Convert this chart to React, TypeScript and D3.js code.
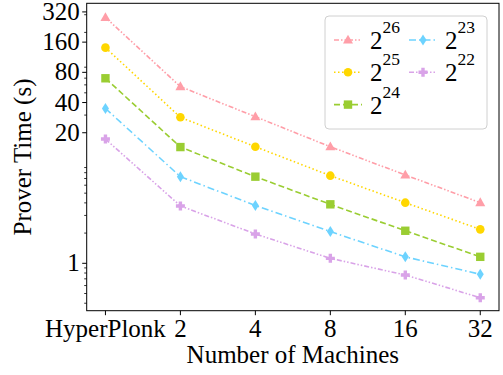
import React from "react";
import * as d3 from "d3";

const categories = ["HyperPlonk", "2", "4", "8", "16", "32"];
const seriesNames = ["26", "25", "24", "23", "22"];
const s26 = [282, 57.6, 28.9, 14.5, 7.59, 4.02];
const s25 = [141, 28.5, 14.5, 7.47, 4.02, 2.18];
const s24 = [69.8, 14.4, 7.3, 3.87, 2.11, 1.16];
const s23 = [34.9, 7.3, 3.77, 2.07, 1.16, 0.777];
const s22 = [17.3, 3.73, 1.96, 1.12, 0.765, 0.454];
const yTicks = [1, 20, 40, 80, 160, 320];
const yMinorTicks = [0.4, 0.5, 0.6, 0.7, 0.8, 0.9, 2, 3, 4, 5, 6, 7, 8, 9, 30, 50, 60, 70, 90, 200, 300];

const W = 503, H = 375;
const L = 86.7, R = 499, T = 3.3, B = 310.7;
const FONT = "'Liberation Serif', 'Times New Roman', serif";

type Style = { color: string; dash: string; marker: string };
const styles: Style[] = [
  { color: "#FF9EA8", dash: "5,2,1.5,2,1.5,2", marker: "triangle" },
  { color: "#FFD700", dash: "1.5,2.5", marker: "circle" },
  { color: "#9ACD32", dash: "6,3", marker: "square" },
  { color: "#6DD3FF", dash: "7,3,1.5,3", marker: "diamond" },
  { color: "#D9A3E8", dash: "5,2,1.5,2,1.5,2", marker: "plus" },
];
const allSeries = [s26, s25, s24, s23, s22];

function Marker({ kind, x, y, color }: { kind: string; x: number; y: number; color: string }) {
  if (kind === "circle") return <circle cx={x} cy={y} r={4.3} fill={color} />;
  if (kind === "square") return <rect x={x - 4.2} y={y - 4.2} width={8.4} height={8.4} fill={color} />;
  if (kind === "triangle")
    return <path d={`M${x},${y - 5.3}L${x + 5},${y + 3.5}L${x - 5},${y + 3.5}Z`} fill={color} />;
  if (kind === "diamond")
    return <path d={`M${x},${y - 5.5}L${x + 3.5},${y}L${x},${y + 5.5}L${x - 3.5},${y}Z`} fill={color} />;
  // plus (filled)
  const a = 4.5, b = 1.7;
  return (
    <path
      d={`M${x - b},${y - a}H${x + b}V${y - b}H${x + a}V${y + b}H${x + b}V${y + a}H${x - b}V${y + b}H${x - a}V${y - b}H${x - b}Z`}
      fill={color}
    />
  );
}

export default function App() {
  const x = d3.scaleLinear().domain([-0.25, 5.25]).range([L, R]);
  const y = d3.scaleLog().domain([0.337, 390]).range([B, T]);
  const line = d3
    .line<number>()
    .x((_, i) => x(i))
    .y((d) => y(d));

  const legendItems = seriesNames.map((n, i) => ({
    name: n,
    style: styles[i],
    col: i < 3 ? 0 : 1,
    row: i < 3 ? i : i - 3,
  }));

  return (
    <svg width={W} height={H} style={{ position: "absolute", left: 0, top: 0 }} fontFamily={FONT}>
      <rect width={W} height={H} fill="white" />
      {allSeries.map((s, i) => (
        <g key={i}>
          <path d={line(s) || ""} fill="none" stroke={styles[i].color} strokeWidth={1.6} strokeDasharray={styles[i].dash} />
          {s.map((v, j) => (
            <Marker key={j} kind={styles[i].marker} x={x(j)} y={y(v)} color={styles[i].color} />
          ))}
        </g>
      ))}
      {/* frame */}
      <rect x={L} y={T} width={R - L} height={B - T} fill="none" stroke="black" strokeWidth={1} />
      {/* y ticks */}
      {yTicks.map((t) => (
        <g key={t}>
          <line x1={L - 4.5} x2={L} y1={y(t)} y2={y(t)} stroke="black" strokeWidth={1} />
          <text x={L - 7} y={y(t) + 8} textAnchor="end" fontSize={25}>
            {t}
          </text>
        </g>
      ))}
      {yMinorTicks.map((t) => (
        <line key={t} x1={L - 2.5} x2={L} y1={y(t)} y2={y(t)} stroke="black" strokeWidth={0.8} />
      ))}
      {/* x ticks */}
      {categories.map((c, i) => (
        <g key={c}>
          <line x1={x(i)} x2={x(i)} y1={B} y2={B + 4.5} stroke="black" strokeWidth={1} />
          <text x={x(i)} y={B + 26} textAnchor="middle" fontSize={25}>
            {c}
          </text>
        </g>
      ))}
      <text x={(L + R) / 2} y={363} textAnchor="middle" fontSize={25}>
        Number of Machines
      </text>
      <text transform={`translate(31,${(T + B) / 2}) rotate(-90)`} textAnchor="middle" fontSize={25}>
        Prover Time (s)
      </text>
      {/* legend */}
      <rect x={325} y={16} width={162} height={113} rx={4} fill="white" fillOpacity={0.8} stroke="#d0d0d0" strokeWidth={1} />
      {legendItems.map((it) => {
        const lx = it.col === 0 ? 334 : 409;
        const cy = 40 + it.row * 32.3;
        return (
          <g key={it.name}>
            <line x1={lx} x2={lx + 28} y1={cy} y2={cy} stroke={it.style.color} strokeWidth={1.6} strokeDasharray={it.style.dash} />
            <Marker kind={it.style.marker} x={lx + 14} y={cy} color={it.style.color} />
            <text x={lx + 36} y={cy + 9} fontSize={25}>
              2
              <tspan dy={-16} fontSize={17.5}>
                {it.name}
              </tspan>
            </text>
          </g>
        );
      })}
    </svg>
  );
}
